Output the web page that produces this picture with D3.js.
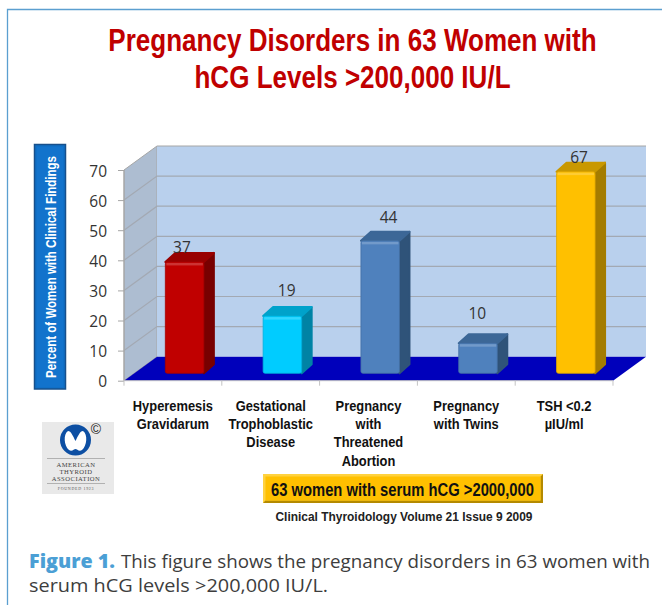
<!DOCTYPE html>
<html lang="en">
<head>
  <meta charset="UTF-8">
  <title>Pregnancy Disorders</title>
  <script src="https://d3js.org/d3.v7.min.js"></script>
  <style>
    body { margin: 0; background: white; }
    svg { display: block; font-family: "Liberation Sans", sans-serif; }
    .tick-text { font-family: "Open Sans", sans-serif; font-size: 15.5px; fill: #333; }
    .caption { font-family: "Open Sans", sans-serif; font-size: 18.6px; fill: #3d3d3d; }
  </style>
</head>
<body>
  <svg width="662" height="605"></svg>
  <script>
    const categories = ['Hyperemesis|Gravidarum', 'Gestational|Trophoblastic|Disease', 'Pregnancy|with|Threatened|Abortion', 'Pregnancy|with Twins', 'TSH <0.2|µIU/ml'];
    const values = [37, 19, 44, 10, 67];
    const yTicks = [0, 10, 20, 30, 40, 50, 60, 70];
    const titleLines = ['Pregnancy Disorders in 63 Women with', 'hCG Levels >200,000 IU/L'];
    const frontColors = ['#c00000', '#00ccff', '#4f81bd', '#4f81bd', '#ffc000'];
    const topColors = ['#980000', '#00a2cb', '#3c6797', '#3c6797', '#c99800'];
    const sideColors = ['#780000', '#0083a5', '#2f5379', '#2f5379', '#a47c00'];
    // label nudges, the labels were hand placed in the original slide
    const labelDx = [-2.7, 4.3, 8.3, -0.7, 3.3];
    const labelDy = [-9, -20, -18, -24, -9];

    const svg = d3.select('svg');
    const floorDepth = { x: 33, y: -24 };
    const barDepth = { x: 10, y: -9 };

    const x = d3.scaleBand().domain(categories).range([124, 613]).paddingInner(0.606).paddingOuter(0.303);
    const y = d3.scaleLinear().domain([0, 70]).range([380.7, 170]);
    const barShift = { x: 11.7, y: -7.4 };
    const poly = d3.line();

    // frame
    svg.append('path').attr('d', 'M7.5,605V9.5H662').attr('fill', 'none').attr('stroke', '#5b9fd0').attr('stroke-width', 1.3);

    // title, no narrow font installed so squeeze it
    svg.append('g').selectAll('text').data(titleLines).join('text')
      .attr('transform', (d, i) => `translate(352.5,${51 + i * 37}) scale(0.84,1)`)
      .attr('text-anchor', 'middle').attr('font-size', 31).attr('font-weight', 'bold')
      .attr('fill', '#c00000').text(d => d);

    // walls and floor
    const x0 = x.range()[0], x1 = x.range()[1];
    const yBase = y(0), yTop = y(70);
    svg.append('path').attr('fill', '#adbdd1').attr('stroke', '#a6a6a6')
      .attr('d', poly([[x0, yBase], [x0 + floorDepth.x, yBase + floorDepth.y], [x0 + floorDepth.x, yTop + floorDepth.y], [x0, yTop]]) + 'Z');
    svg.append('rect').attr('x', x0 + floorDepth.x).attr('y', yTop + floorDepth.y)
      .attr('width', x1 - x0).attr('height', yBase - yTop).attr('fill', '#b9d0ed');
    svg.append('path').attr('fill', 'none').attr('stroke', '#a6a6a6')
      .attr('d', poly([[x0 + floorDepth.x, yTop + floorDepth.y], [x1 + floorDepth.x, yTop + floorDepth.y]]));

    // gridlines
    svg.append('g').selectAll('path').data(yTicks.filter(d => d > 0 && d < 70)).join('path')
      .attr('fill', 'none').attr('stroke', '#a3a9b3').attr('stroke-width', 1.2)
      .attr('d', d => poly([[x0, y(d)], [x0 + floorDepth.x, y(d) + floorDepth.y], [x1 + floorDepth.x, y(d) + floorDepth.y]]));

    svg.append('path').attr('fill', '#0000bb')
      .attr('d', poly([[x0, yBase], [x0 + floorDepth.x, yBase + floorDepth.y], [x1 + floorDepth.x, yBase + floorDepth.y], [x1, yBase]]) + 'Z');

    // axes
    const yAxis = svg.append('g').attr('transform', `translate(${x0},0)`)
      .call(d3.axisLeft(y).tickValues(yTicks).tickSize(6).tickPadding(11));
    yAxis.selectAll('text').attr('class', 'tick-text').attr('dy', '0.4em');
    yAxis.selectAll('line').attr('stroke', '#a6a6a6');
    yAxis.select('.domain').attr('stroke', '#a6a6a6').attr('d', `M0,${yTop}V${yBase}`);

    const xAxis = svg.append('g').attr('transform', `translate(0,${yBase})`)
      .call(d3.axisBottom(x).tickSize(0).tickFormat(''));
    xAxis.select('.domain').attr('stroke', '#c4c4c4').attr('d', `M${x0},0H${x1}`);
    xAxis.selectAll('.tick').each(function(d, i) {
      const tick = d3.select(this);
      tick.select('text').remove();
      tick.append('text').attr('fill', '#111')
        .attr('transform', 'scale(0.86,1)')
        .attr('text-anchor', 'middle').attr('font-size', 15).attr('font-weight', 'bold')
        .selectAll('tspan').data(d.split('|')).join('tspan')
        .attr('x', 0).attr('y', (t, j) => 30 + j * 18.3).text(t => t);
      tick.append('line').attr('stroke', '#c4c4c4')
        .attr('x1', x.step() / 2).attr('x2', x.step() / 2).attr('y1', 0).attr('y2', 5);
      if (i === 0) {
        tick.append('line').attr('stroke', '#c4c4c4')
          .attr('x1', -x.step() / 2).attr('x2', -x.step() / 2).attr('y1', 0).attr('y2', 5);
      }
    });

    // bars
    const bars = svg.append('g').selectAll('g').data(categories).join('g');
    const bx0 = d => x(d) + barShift.x;
    const bx1 = d => bx0(d) + x.bandwidth();
    const barTop = (d, i) => y(values[i]) + barShift.y;
    const barBot = y(0) + barShift.y;

    bars.append('path')
      .attr('fill', (d, i) => sideColors[i]).attr('stroke', (d, i) => sideColors[i])
      .attr('stroke-linejoin', 'round').attr('stroke-width', 2)
      .attr('d', (d, i) => poly([[bx1(d), barTop(d, i)], [bx1(d) + barDepth.x, barTop(d, i) + barDepth.y], [bx1(d) + barDepth.x, barBot + barDepth.y], [bx1(d), barBot]]) + 'Z');
    bars.append('path')
      .attr('fill', (d, i) => topColors[i]).attr('stroke', (d, i) => topColors[i])
      .attr('stroke-linejoin', 'round').attr('stroke-width', 2)
      .attr('d', (d, i) => poly([[bx0(d), barTop(d, i)], [bx0(d) + barDepth.x, barTop(d, i) + barDepth.y], [bx1(d) + barDepth.x, barTop(d, i) + barDepth.y], [bx1(d), barTop(d, i)]]) + 'Z');
    bars.append('rect')
      .attr('x', bx0).attr('y', barTop)
      .attr('width', x.bandwidth()).attr('height', (d, i) => barBot - barTop(d, i))
      .attr('rx', 2)
      .attr('fill', (d, i) => frontColors[i])
      .attr('stroke', (d, i) => d3.color(frontColors[i]).darker(0.4)).attr('stroke-width', 0.8);
    bars.append('rect')
      .attr('x', d => bx0(d) + 1).attr('y', (d, i) => barTop(d, i) + 1)
      .attr('width', x.bandwidth() - 2).attr('height', 2.5)
      .attr('fill', 'white').attr('opacity', 0.2);

    bars.append('text').attr('class', 'tick-text')
      .attr('text-anchor', 'middle')
      .attr('x', (d, i) => bx0(d) + x.bandwidth() / 2 + labelDx[i])
      .attr('y', (d, i) => barTop(d, i) + labelDy[i])
      .text((d, i) => values[i]);

    // y axis title box
    svg.append('rect').attr('x', 34.5).attr('y', 144.5).attr('width', 31).attr('height', 244.5)
      .attr('fill', '#0f6fc6').attr('stroke', '#17508c').attr('stroke-width', 1.5);
    svg.append('rect').attr('x', 37).attr('y', 147).attr('width', 26).attr('height', 240).attr('fill', '#1273cc');
    svg.append('text')
      .attr('transform', 'translate(56,267) rotate(-90)')
      .attr('text-anchor', 'middle').attr('font-size', 14).attr('font-weight', 'bold').attr('fill', 'white')
      .attr('textLength', 222).attr('lengthAdjust', 'spacingAndGlyphs')
      .text('Percent of Women with Clinical Findings');

    // logo
    const logo = svg.append('g');
    logo.append('rect').attr('x', 42).attr('y', 422).attr('width', 72).attr('height', 72).attr('fill', '#e9e9e9');
    logo.append('circle').attr('cx', 75.5).attr('cy', 440).attr('r', 15.5).attr('fill', '#0d4fa3');
    logo.append('path').attr('fill', 'white')
      .attr('d', 'M68,431C71,431 73,436 75.5,441C78,436 80,431 83,431C88,434 87,446 82,450C79,452 77,449 75.5,449C74,449 72,452 69,450C64,446 63,434 68,431Z');
    logo.append('text').attr('x', 96).attr('y', 434).attr('text-anchor', 'middle').attr('font-size', 14).attr('fill', '#222').text('©');
    logo.selectAll('line').data([458.5, 483.5]).join('line')
      .attr('x1', 47).attr('x2', 105).attr('y1', d => d).attr('y2', d => d).attr('stroke', '#9a9a9a').attr('stroke-width', 0.7);
    logo.selectAll('text.org').data(['AMERICAN', 'THYROID', 'ASSOCIATION']).join('text')
      .attr('class', 'org').attr('x', 76).attr('y', (d, i) => 467 + i * 6.8)
      .attr('text-anchor', 'middle').attr('font-family', '"Liberation Serif", serif').attr('font-size', 6.6)
      .attr('letter-spacing', 0.5).attr('fill', '#444').text(d => d);
    logo.append('text').attr('x', 76).attr('y', 489.5).attr('text-anchor', 'middle')
      .attr('font-family', '"Liberation Serif", serif').attr('font-size', 4).attr('letter-spacing', 0.7).attr('fill', '#555').text('FOUNDED 1923');

    // callout
    svg.append('rect').attr('x', 263).attr('y', 474).attr('width', 280).attr('height', 29).attr('fill', '#ffd23f');
    svg.append('path').attr('d', 'M263,503H543V474L540.5,476.5V500.5H265.5Z').attr('fill', '#b48a00');
    svg.append('rect').attr('x', 265.5).attr('y', 476.5).attr('width', 275).attr('height', 24).attr('fill', '#ffc000');
    svg.append('text').attr('x', 402.5).attr('y', 495.5)
      .attr('text-anchor', 'middle').attr('font-size', 18).attr('font-weight', 'bold').attr('fill', '#111')
      .attr('textLength', 263).attr('lengthAdjust', 'spacingAndGlyphs')
      .text('63 women with serum hCG >2000,000');
    svg.append('text').attr('x', 404).attr('y', 521).attr('text-anchor', 'middle')
      .attr('font-size', 12).attr('font-weight', 'bold').attr('fill', '#222')
      .attr('textLength', 257).attr('lengthAdjust', 'spacingAndGlyphs')
      .text('Clinical Thyroidology Volume 21 Issue 9 2009');

    // caption
    svg.append('text').attr('class', 'caption').attr('x', 29).attr('y', 568)
      .attr('font-weight', 800).style('fill', '#4b9fd5').style('font-size', '19.5px')
      .attr('textLength', 86).attr('lengthAdjust', 'spacingAndGlyphs').text('Figure 1.');
    svg.append('text').attr('class', 'caption').attr('x', 121).attr('y', 568)
      .attr('textLength', 529).attr('lengthAdjust', 'spacingAndGlyphs')
      .text('This figure shows the pregnancy disorders in 63 women with');
    svg.append('text').attr('class', 'caption').attr('x', 29).attr('y', 592)
      .attr('textLength', 299).attr('lengthAdjust', 'spacingAndGlyphs')
      .text('serum hCG levels >200,000 IU/L.');
  </script>
</body>
</html>
